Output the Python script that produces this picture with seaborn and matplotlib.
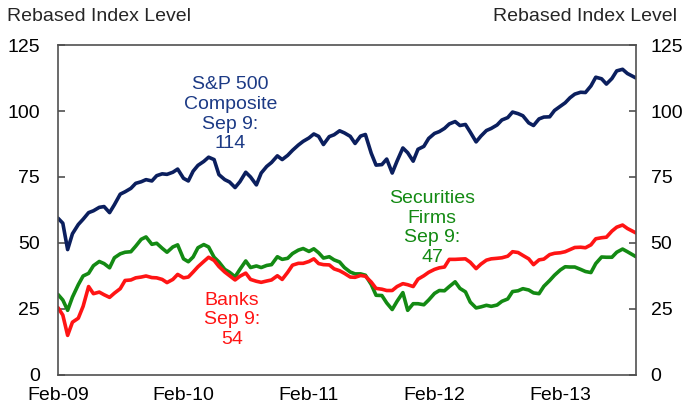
import pandas as pd
import matplotlib
matplotlib.use("Agg")
import matplotlib.pyplot as plt
import matplotlib.dates as mdates
import seaborn as sns

# Dane (co pół miesiąca, ostatni punkt 9 wrz 2013)
dates = list(pd.date_range("2009-02-01", periods=110, freq="SMS")) + [pd.Timestamp("2013-09-09")]

sp500 = [
    59.4, 57.5, 47.5, 53.5, 57.0, 59.0, 61.5, 62.2, 63.5, 63.8,
    61.5, 64.5, 68.5, 69.4, 70.7, 72.6, 73.2, 74.0, 73.5, 75.5,
    76.2, 76.0, 76.8, 78.0, 74.5, 73.5, 77.2, 79.4, 80.9, 82.5,
    81.6, 75.9, 74.0, 73.1, 71.0, 73.2, 76.8, 75.0, 72.0, 76.5,
    79.0, 80.5, 83.0, 81.6, 83.2, 85.1, 87.1, 88.5, 89.8, 91.3,
    90.4, 87.3, 90.3, 91.0, 92.5, 91.7, 90.4, 87.7, 90.5, 91.1,
    84.0, 79.5, 79.7, 81.8, 76.5, 81.0, 86.0, 84.2, 81.0, 85.5,
    86.6, 89.6, 91.5, 92.2, 93.4, 95.1, 96.0, 94.5, 94.9, 92.0,
    88.3, 90.5, 92.6, 93.4, 94.7, 96.6, 97.5, 99.6, 99.0, 98.2,
    95.5, 94.5, 97.0, 97.7, 97.8, 100.2, 101.8, 103.1, 105.0, 106.4,
    107.1, 107.0, 109.5, 112.8, 112.2, 110.2, 112.3, 115.2, 115.8, 114.2,
    112.5,
]

securities = [
    30.5, 28.4, 24.5, 29.5, 34.2, 37.5, 38.5, 41.4, 43.0, 42.2,
    40.6, 44.4, 45.9, 46.5, 46.7, 48.8, 51.4, 52.3, 49.5, 49.9,
    48.0, 46.5, 48.5, 49.3, 44.0, 42.9, 44.7, 48.2, 49.4, 48.5,
    44.6, 42.8, 40.0, 38.9, 37.2, 40.0, 43.2, 40.7, 41.3, 40.7,
    41.5, 41.8, 44.8, 43.8, 44.2, 46.0, 47.3, 47.9, 46.8, 47.8,
    46.3, 44.3, 44.8, 43.6, 42.8, 40.7, 39.0, 38.3, 38.3, 37.8,
    34.3, 30.2, 30.1, 27.3, 24.8, 27.9, 31.2, 24.5, 27.0, 27.0,
    26.6, 28.4, 30.9, 32.0, 31.9, 33.5, 35.3, 32.8, 31.5, 27.6,
    25.4, 25.8, 26.4, 26.0, 26.5, 27.9, 28.8, 31.6, 31.9, 32.7,
    32.2, 31.1, 30.8, 33.6, 35.8, 37.8, 39.8, 41.0, 40.9, 40.9,
    40.0, 39.2, 38.8, 42.2, 44.7, 44.6, 44.6, 46.5, 47.7, 46.7,
    44.8,
]

banks = [
    25.5, 22.7, 15.0, 20.0, 21.5, 26.0, 33.5, 30.8, 31.4, 30.4,
    29.4, 31.0, 32.7, 35.8, 36.0, 36.8, 37.1, 37.5, 36.9, 36.8,
    36.2, 35.0, 36.2, 38.1, 36.8, 37.1, 39.0, 41.0, 43.0, 44.6,
    43.4, 41.1, 39.0, 37.6, 36.0, 37.4, 38.6, 36.2, 35.5, 35.1,
    35.6, 36.0, 37.6, 36.2, 38.9, 41.6, 42.3, 42.3, 43.0, 44.0,
    42.2, 41.8, 41.7, 40.2, 39.5, 38.5, 37.1, 37.0, 37.7, 37.4,
    35.2, 32.8, 32.5, 32.0, 32.0, 33.5, 34.6, 34.2, 33.5, 36.3,
    37.6, 38.9, 40.0, 40.6, 40.9, 43.8, 43.8, 43.9, 44.0, 42.7,
    40.3, 42.0, 43.5, 44.0, 44.2, 44.4, 45.0, 46.7, 46.4, 45.3,
    44.0, 41.8, 43.6, 43.9, 45.6, 46.1, 46.3, 46.7, 47.5, 48.3,
    48.4, 48.2, 49.3, 51.6, 52.0, 52.2, 54.5, 56.0, 56.8, 55.5,
    53.8,
]

yticks = [0, 25, 50, 75, 100, 125]
xtick_dates = pd.to_datetime(["2009-02-01", "2010-02-01", "2011-02-01", "2012-02-01", "2013-02-01"])

sns.set_style("white")
plt.rcParams["font.family"] = ["Liberation Sans", "DejaVu Sans"]

fig, ax = plt.subplots(figsize=(6.84, 4.08), dpi=100)
fig.subplots_adjust(left=0.0848, right=0.9298, top=0.8897, bottom=0.0809)

navy = "#0b1f5e"
green = "#138a13"
red = "#ff1414"
axis_grey = "#505050"

sns.lineplot(x=dates, y=sp500, color=navy, lw=2.6, ax=ax)
sns.lineplot(x=dates, y=securities, color=green, lw=2.6, ax=ax)
sns.lineplot(x=dates, y=banks, color=red, lw=2.6, ax=ax)

ax.set_xlim(dates[0], dates[-1])
ax.set_ylim(0, 125)
ax.set_yticks(yticks)
ax.set_xticks(xtick_dates)
ax.xaxis.set_major_formatter(mdates.DateFormatter("%b-%y"))
ax.set_xlabel("")
ax.set_ylabel("")

for s in ax.spines.values():
    s.set_color(axis_grey)
    s.set_linewidth(1.2)

ax.tick_params(axis="both", direction="in", length=5, width=1.2, color=axis_grey,
               labelsize=14, labelcolor="black")
ax.tick_params(axis="y", pad=13)
ax.tick_params(axis="x", pad=9)

# prawa oś – te same wartości
ax2 = ax.twinx()
ax2.set_ylim(ax.get_ylim())
ax2.set_yticks(yticks)
ax2.tick_params(axis="y", direction="in", length=5, width=1.2, color=axis_grey,
                labelsize=14, labelcolor="black", pad=10.5)
for s in ax2.spines.values():
    s.set_visible(False)

fig.text(0.01, 0.96, "Rebased Index Level", fontsize=14, ha="left", va="center")
fig.text(0.99, 0.96, "Rebased Index Level", fontsize=14, ha="right", va="center")

ax.text(0.298, 0.79, "S&P 500\nComposite\nSep 9:\n114", transform=ax.transAxes,
        ha="center", va="center", fontsize=14, color="#1c3a85", linespacing=1.2)
ax.text(0.647, 0.445, "Securities\nFirms\nSep 9:\n47", transform=ax.transAxes,
        ha="center", va="center", fontsize=14, color=green, linespacing=1.2)
ax.text(0.301, 0.167, "Banks\nSep 9:\n54", transform=ax.transAxes,
        ha="center", va="center", fontsize=14, color=red, linespacing=1.2)

plt.savefig("out.png", dpi=100)
plt.close()
